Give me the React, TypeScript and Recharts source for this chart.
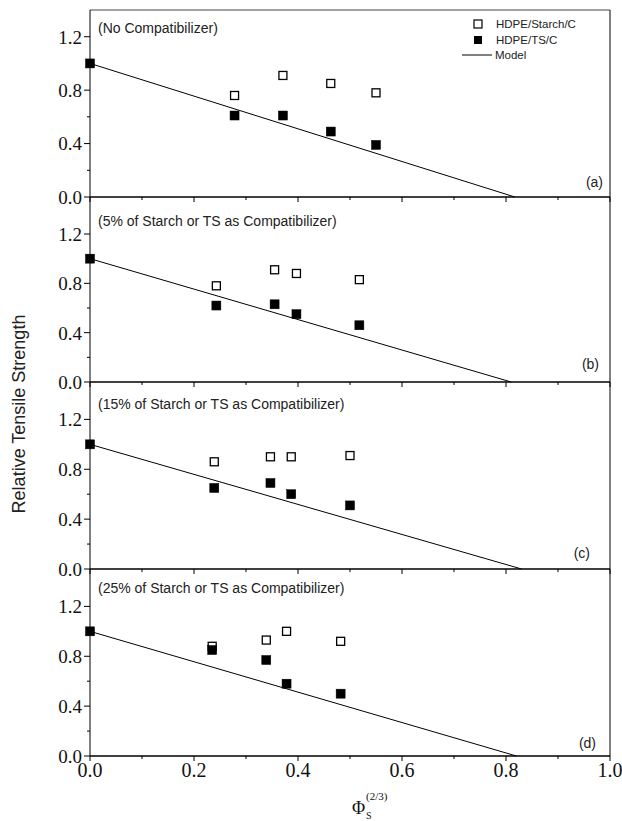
import React from 'react';
import { ComposedChart, Scatter, Line, XAxis, YAxis, ReferenceLine } from 'recharts';

// ---- data ----
const xTicks = [0, 0.1, 0.2, 0.3, 0.4, 0.5, 0.6, 0.7, 0.8, 0.9, 1.0];
const xMajor = [0, 0.2, 0.4, 0.6, 0.8, 1.0];
const yTicks = [0, 0.2, 0.4, 0.6, 0.8, 1.0, 1.2];
const yMajor = [0, 0.4, 0.8, 1.2];

const panelTitles = [
  '(No Compatibilizer)',
  '(5% of Starch or TS as Compatibilizer)',
  '(15% of Starch or TS as Compatibilizer)',
  '(25% of Starch or TS as Compatibilizer)',
];
const panelTags = ['(a)', '(b)', '(c)', '(d)'];
const seriesNames = ['HDPE/Starch/C', 'HDPE/TS/C', 'Model'];

// panel (a)
const phiA = [0.278, 0.371, 0.463, 0.55];
const starchA = [0.76, 0.91, 0.85, 0.78];
const tsPhiA = [0, 0.278, 0.371, 0.463, 0.55];
const tsA = [1.0, 0.61, 0.61, 0.49, 0.39];
const modelPhiA = [0, 0.817];
// panel (b)
const phiB = [0.243, 0.355, 0.397, 0.518];
const starchB = [0.78, 0.91, 0.88, 0.83];
const tsPhiB = [0, 0.243, 0.355, 0.397, 0.518];
const tsB = [1.0, 0.62, 0.63, 0.55, 0.46];
const modelPhiB = [0, 0.81];
// panel (c)
const phiC = [0.239, 0.347, 0.387, 0.5];
const starchC = [0.86, 0.9, 0.9, 0.91];
const tsPhiC = [0, 0.239, 0.347, 0.387, 0.5];
const tsC = [1.0, 0.65, 0.69, 0.6, 0.51];
const modelPhiC = [0, 0.83];
// panel (d)
const phiD = [0.235, 0.339, 0.378, 0.482];
const starchD = [0.88, 0.93, 1.0, 0.92];
const tsPhiD = [0, 0.235, 0.339, 0.378, 0.482];
const tsD = [1.0, 0.85, 0.77, 0.58, 0.5];
const modelPhiD = [0, 0.82];
const modelY = [1.0, 0.0];

const toPts = (xs: number[], ys: number[]) => xs.map((x, i) => ({ x, y: ys[i] }));

const near = (arr: number[], v: number) => arr.some((m) => Math.abs(m - v) < 1e-6);

const sans = "Liberation Sans";
const serif = "Liberation Serif";

const LeftTick = (props: any) => {
  const { x, y, payload } = props;
  const v = payload.value;
  const major = near(yMajor, v);
  return (
    <g>
      <line x1={x} x2={x - (major ? 6 : 3)} y1={y} y2={y} stroke="#000" strokeWidth={1} />
      {major && (
        <text x={x - 8} y={y} dy="0.36em" textAnchor="end" fontFamily={serif} style={{ fontFamily: serif }} fontSize={19} fill="#111">
          {v.toFixed(1)}
        </text>
      )}
    </g>
  );
};

const RightTick = (props: any) => {
  const { x, y, payload } = props;
  const major = near(yMajor, payload.value);
  return <line x1={x} x2={x + (major ? 4 : 2)} y1={y} y2={y} stroke="#000" strokeWidth={1} />;
};

const makeBottomTick = (labels: boolean) => (props: any) => {
  const { x, y, payload } = props;
  const v = payload.value;
  const major = near(xMajor, v);
  return (
    <g>
      <line x1={x} x2={x} y1={y} y2={y + (major ? 5 : 3)} stroke="#000" strokeWidth={1} />
      {labels && major && (
        <text x={x} y={y + 21} textAnchor="middle" fontFamily={serif} style={{ fontFamily: serif }} fontSize={20} fill="#111">
          {v.toFixed(1)}
        </text>
      )}
    </g>
  );
};

const OpenSquare = (props: any) => (
  <rect x={props.cx - 4} y={props.cy - 4} width={8} height={8} fill="#fff" stroke="#000" strokeWidth={1.3} />
);
const FilledSquare = (props: any) => (
  <rect x={props.cx - 4.5} y={props.cy - 4.5} width={9} height={9} fill="#000" stroke="#000" strokeWidth={0.5} />
);

type PanelProps = {
  plotTop: number;
  plotH: number;
  yMax: number;
  starch: { x: number; y: number }[];
  ts: { x: number; y: number }[];
  model: { x: number; y: number }[];
  labels: boolean;
  topBorder: boolean;
};

const Panel = ({ plotTop, plotH, yMax, starch, ts, model, labels, topBorder }: PanelProps) => {
  const xAxisH = labels ? 30 : 25;
  const marginTop = 10;
  const height = marginTop + plotH + xAxisH;
  return (
    <div style={{ position: 'absolute', left: 0, top: plotTop - marginTop, width: 622, height }}>
      <ComposedChart width={622} height={height} margin={{ top: marginTop, right: 0, bottom: 0, left: 0 }} style={{ overflow: 'visible' }}>
        <XAxis
          type="number"
          dataKey="x"
          domain={[0, 1]}
          ticks={xTicks}
          interval={0}
          tickSize={0}
          tickMargin={0}
          height={xAxisH}
          axisLine={{ stroke: '#000', strokeWidth: 1.3 }}
          tick={makeBottomTick(labels)}
        />
        <YAxis
          yAxisId="l"
          type="number"
          dataKey="y"
          domain={[0, yMax]}
          ticks={yTicks}
          interval={0}
          tickSize={0}
          tickMargin={0}
          width={90}
          axisLine={{ stroke: '#000', strokeWidth: 1 }}
          tick={LeftTick}
        />
        <YAxis
          yAxisId="r"
          orientation="right"
          type="number"
          domain={[0, yMax]}
          ticks={yTicks}
          interval={0}
          tickSize={0}
          tickMargin={0}
          width={12}
          axisLine={{ stroke: '#000', strokeWidth: 1 }}
          tick={RightTick}
        />
        {topBorder && <ReferenceLine yAxisId="l" y={yMax} stroke="#444" strokeWidth={1} />}
        <Line
          yAxisId="l"
          data={model}
          dataKey="y"
          name={seriesNames[2]}
          type="linear"
          stroke="#000"
          strokeWidth={1}
          dot={false}
          activeDot={false}
          isAnimationActive={false}
        />
        <Scatter yAxisId="l" data={starch} dataKey="y" name={seriesNames[0]} shape={OpenSquare} isAnimationActive={false} />
        <Scatter yAxisId="l" data={ts} dataKey="y" name={seriesNames[1]} shape={FilledSquare} isAnimationActive={false} />
      </ComposedChart>
    </div>
  );
};

export default function App() {
  const titleY = [28, 221, 404, 588];
  const tagPos = [
    { x: 603, y: 182 },
    { x: 599, y: 364 },
    { x: 590, y: 553 },
    { x: 596, y: 743 },
  ];
  return (
    <div style={{ position: 'absolute', left: 0, top: 0, width: 622, height: 821, background: '#fff', overflow: 'hidden' }}>
      <Panel plotTop={10} plotH={187} yMax={1.4} starch={toPts(phiA, starchA)} ts={toPts(tsPhiA, tsA)} model={toPts(modelPhiA, modelY)} labels={false} topBorder />
      <Panel plotTop={197} plotH={185} yMax={1.5} starch={toPts(phiB, starchB)} ts={toPts(tsPhiB, tsB)} model={toPts(modelPhiB, modelY)} labels={false} topBorder={false} />
      <Panel plotTop={382} plotH={187} yMax={1.5} starch={toPts(phiC, starchC)} ts={toPts(tsPhiC, tsC)} model={toPts(modelPhiC, modelY)} labels={false} topBorder={false} />
      <Panel plotTop={569} plotH={187} yMax={1.5} starch={toPts(phiD, starchD)} ts={toPts(tsPhiD, tsD)} model={toPts(modelPhiD, modelY)} labels topBorder={false} />
      <svg width={622} height={821} style={{ position: 'absolute', left: 0, top: 0, pointerEvents: 'none' }}>
        {panelTitles.map((t, i) => (
          <text key={t} x={98} y={titleY[i]} dy="0.35em" fontFamily={sans} fontSize={14} fill="#222">
            {t}
          </text>
        ))}
        {panelTags.map((t, i) => (
          <text key={t} x={tagPos[i].x} y={tagPos[i].y} dy="0.35em" textAnchor="end" fontFamily={sans} fontSize={14} fill="#222">
            {t}
          </text>
        ))}
        {/* legend */}
        <rect x={474} y={20} width={8} height={8} fill="#fff" stroke="#000" strokeWidth={1.2} />
        <text x={496} y={24} dy="0.35em" fontFamily={sans} fontSize={11.5} fill="#222">{seriesNames[0]}</text>
        <rect x={474} y={36} width={8} height={8} fill="#000" />
        <text x={496} y={40} dy="0.35em" fontFamily={sans} fontSize={11.5} fill="#222">{seriesNames[1]}</text>
        <line x1={462} x2={492} y1={55} y2={55} stroke="#000" strokeWidth={1} />
        <text x={495} y={55} dy="0.35em" fontFamily={sans} fontSize={11.5} fill="#222">{seriesNames[2]}</text>
        {/* axis titles */}
        <text x={19} y={414} transform="rotate(-90 19 414)" dy="0.35em" textAnchor="middle" fontFamily={sans} fontSize={18} fill="#222">
          Relative Tensile Strength
        </text>
        <text x={352} y={814} fontFamily={serif} fontSize={18} fill="#111">Φ</text>
        <text x={366} y={800} fontFamily={serif} fontSize={11} fill="#111">(2/3)</text>
        <text x={366} y={819} fontFamily={serif} fontSize={10} fill="#111">S</text>
      </svg>
    </div>
  );
}
